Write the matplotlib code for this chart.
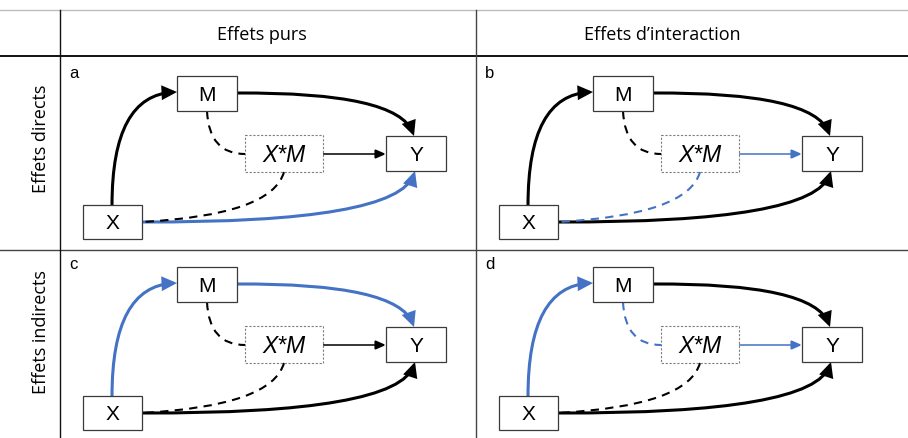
import matplotlib.pyplot as plt
from matplotlib.patches import Rectangle, FancyArrowPatch, PathPatch
from matplotlib.path import Path

# Table content
col_labels = ["Effets purs", "Effets d\u2019interaction"]
row_labels = ["Effets directs", "Effets indirects"]
panel_letters = ["a", "b", "c", "d"]

# Nodes of the mediation diagram
node_names = ["X", "M", "XM", "Y"]
node_texts = ["X", "M", "X*M", "Y"]

# Edges: (from, to, kind)
edges = [("X", "M", "main"), ("M", "Y", "main"), ("XM", "Y", "thin"),
         ("M", "XM", "dash"), ("XM", "X", "dash"), ("X", "Y", "main")]

# Highlighted (blue) edges per panel
highlight = {
    "a": [("X", "Y")],
    "b": [("XM", "Y"), ("XM", "X")],
    "c": [("X", "M"), ("M", "Y")],
    "d": [("X", "M"), ("M", "XM"), ("XM", "Y")],
}

BLUE = "#4472C4"

# Panel a geometry in pixels, others are shifted
box_xywh = {"M": (177, 77, 60, 35), "XM": (245, 136, 78, 37),
            "Y": (386, 137, 60, 35), "X": (83, 206, 59, 34)}
# start, control point, end of each edge in panel a
edge_geom = {
    ("X", "M"): [(112, 206), (112, 96), (177, 93)],
    ("M", "Y"): [(237, 94), (398, 93), (414, 137)],
    ("XM", "Y"): [(323, 155), (386, 155)],
    ("M", "XM"): [(207, 112), (209, 155), (245, 155)],
    ("XM", "X"): [(284, 173), (272, 216), (142, 223)],
    ("X", "Y"): [(142, 223), (398, 224), (415, 172)],
}
offsets = {"a": (0, 0), "b": (416, 0), "c": (0, 191), "d": (416, 191)}

fig = plt.figure(figsize=(9.08, 4.39), dpi=100)
ax = fig.add_axes([0, 0, 1, 1])
ax.set_xlim(0, 908)
ax.set_ylim(439, 0)
ax.axis("off")

# table lines
ax.plot([0, 908], [11, 11], color="#bdbdbd", lw=1.0)
ax.plot([0, 908], [57, 57], color="#111111", lw=1.4)
ax.plot([0, 908], [251, 251], color="#444444", lw=1.0)
ax.plot([60, 60], [11, 439], color="#111111", lw=1.0)
ax.plot([476, 476], [11, 439], color="#444444", lw=1.0)

hdr_font = "Open Sans"
ax.text(262, 35, col_labels[0], ha="center", va="center", fontsize=13, family=hdr_font)
ax.text(662, 35, col_labels[1], ha="center", va="center", fontsize=13, family=hdr_font)
ax.text(41, 139, row_labels[0], ha="center", va="center", rotation=90, fontsize=13, family=hdr_font)
ax.text(41, 332, row_labels[1], ha="center", va="center", rotation=90, fontsize=13, family=hdr_font)

for letter in panel_letters:
    dx, dy = offsets[letter]
    ax.text(69 + dx, 74 + dy, letter, ha="left", va="center", fontsize=12,
            family="Liberation Sans")

    # boxes
    for name, txt in zip(node_names, node_texts):
        x, y, w, h = box_xywh[name]
        if name == "XM":
            ax.add_patch(Rectangle((x + dx, y + dy), w, h, fill=False, ec="#7f7f7f",
                                   lw=0.8, ls=(0, (2, 1.5)), zorder=3))
            ax.text(x + dx + w / 2, y + dy + h / 2 + 1, txt, ha="center", va="center",
                    fontsize=16.5, style="italic", family="Liberation Sans", zorder=4)
        else:
            ax.add_patch(Rectangle((x + dx, y + dy), w, h, fc="white", ec="#3a3a3a",
                                   lw=0.9, zorder=3))
            ax.text(x + dx + w / 2, y + dy + h / 2 + 1, txt, ha="center", va="center",
                    fontsize=15, family="Liberation Sans", zorder=4)

    # edges
    for src, dst, kind in edges:
        pts = [(px + dx, py + dy) for px, py in edge_geom[(src, dst)]]
        color = BLUE if (src, dst) in highlight[letter] else "black"
        if len(pts) == 2:
            codes = [Path.MOVETO, Path.LINETO]
        else:
            codes = [Path.MOVETO, Path.CURVE3, Path.CURVE3]
        path = Path(pts, codes)
        if kind == "dash":
            ax.add_patch(PathPatch(path, fill=False, ec=color, lw=1.5,
                                   ls=(0, (4, 3)), zorder=2.5))
        elif kind == "thin":
            ax.add_patch(FancyArrowPatch(path=path, arrowstyle="-|>,head_length=0.8,head_width=0.35",
                                         mutation_scale=8, color=color, lw=1.1,
                                         joinstyle="miter", capstyle="butt", zorder=2))
        else:
            ax.add_patch(FancyArrowPatch(path=path, arrowstyle="-|>,head_length=0.75,head_width=0.36",
                                         mutation_scale=10, color=color, lw=2.2,
                                         joinstyle="miter", capstyle="butt", zorder=2))

fig.savefig("out.png", dpi=100)
